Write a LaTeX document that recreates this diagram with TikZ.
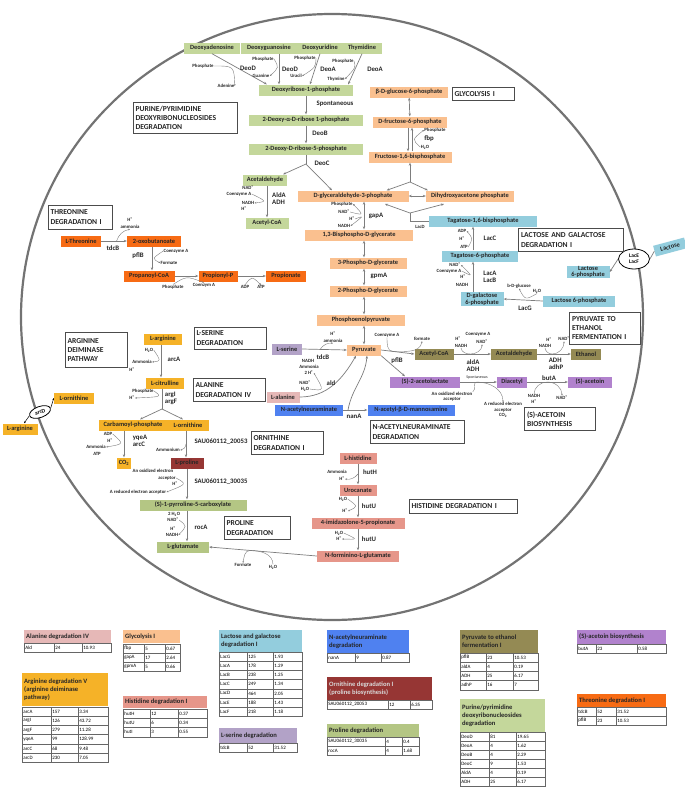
\documentclass[tikz,border=0pt]{standalone}
\usepackage{fontspec}
\setmainfont{Carlito}
\usetikzlibrary{arrows.meta,shapes.geometric,calc}
\definecolor{gP}{RGB}{196,215,155}
\definecolor{gL}{RGB}{180,198,132}
\definecolor{oP}{RGB}{250,192,143}
\definecolor{tO}{RGB}{247,107,20}
\definecolor{yO}{RGB}{245,178,40}
\definecolor{bP}{RGB}{147,205,221}
\definecolor{sP}{RGB}{178,162,199}
\definecolor{aP}{RGB}{230,184,183}
\definecolor{nB}{RGB}{79,129,240}
\definecolor{olP}{RGB}{148,138,84}
\definecolor{puP}{RGB}{177,130,205}
\definecolor{rD}{RGB}{150,54,52}
\definecolor{hS}{RGB}{230,150,138}
\definecolor{aG}{RGB}{125,125,125}
\newcommand\Bx[6]{\node[bx=#5,minimum width=#4] (#1) at (#2,#3) {#6};}
\newcommand\Lb[4]{\node[lb] (#1) at (#2,#3) {#4};}
\newcommand\Ez[4]{\node[en] (#1) at (#2,#3) {#4};}
\newcommand\PW[6]{\node[pw,minimum width=#4,minimum height=#5,text width=\dimexpr #4pt-5pt\relax] (#1) at (#2,#3) {#6};}
\newcommand\cfc[3]{\draw[cof] (#1) .. controls (#2) .. (#3);}
\newcommand\thead[7]{\fill[#5] (#1,#3) rectangle (#2,#4);
  \node[th,anchor=west,text=#7] (#6) at ({#1+1.5},{(#3+#4)/2}) {\csname tx#6\endcsname};}
\newcommand\trows[8]{%
 \foreach \a/\b/\c [count=\i] in {#8} {
   \pgfmathsetmacro\yt{#5+(\i-1)*#6}
   \pgfmathsetmacro\yb{\yt+#6}
   \draw[tl] (#1,\yt) rectangle (#4,\yb);
   \draw[tl] (#2,\yt) -- (#2,\yb) (#3,\yt) -- (#3,\yb);
   \node[tt] (#7-\i-a) at (#1,{(\yt+\yb)/2}) {\a};
   \node[tt] (#7-\i-b) at (#2,{(\yt+\yb)/2}) {\b};
   \node[tt] (#7-\i-c) at (#3,{(\yt+\yb)/2}) {\c};
 }}
\begin{document}
\begin{tikzpicture}[x=1pt,y=-1pt,
  bx/.style={fill=#1,inner sep=0.5pt,minimum height=11pt,font=\fontsize{6.4}{6.8}\selectfont\bfseries,align=center,text=black!85},
  lb/.style={font=\fontsize{4.8}{5.2}\selectfont\bfseries,inner sep=0.3pt,text=black!85,align=center},
  en/.style={font=\fontsize{6.8}{7.2}\selectfont\bfseries,inner sep=0.3pt,text=black!85,align=left},
  pw/.style={draw=black!70,line width=0.6pt,fill=white,font=\fontsize{7.6}{9.2}\selectfont\bfseries,align=left,inner sep=2pt,text=black!85},
  ar/.style={draw=aG,line width=0.7pt,-{Stealth[length=3pt,width=2.4pt]}},
  dar/.style={draw=aG,line width=0.7pt,{Stealth[length=3pt,width=2.4pt]}-{Stealth[length=3pt,width=2.4pt]}},
  ln/.style={draw=aG,line width=0.7pt},
  cof/.style={draw=aG,line width=0.4pt,-{Stealth[length=1.8pt,width=1.6pt]}},
  tl/.style={draw=black!60,line width=0.4pt},
  tt/.style={anchor=west,font=\fontsize{5}{5.5}\selectfont,inner sep=1.2pt},
  th/.style={font=\fontsize{6.6}{7.9}\selectfont\bfseries,align=left,inner sep=0.5pt}]
\useasboundingbox (0,0) rectangle (685,788);
\fill[white] (0,0) rectangle (685,788);
% cell
\draw[draw=black!55,line width=2.2pt] (332,317) ellipse [x radius=311,y radius=303];

% ---------- purine / pyrimidine
\Bx{dA}{212}{48}{56}{gP}{Deoxyadenosine}
\Bx{dG}{269}{48}{56}{gP}{Deoxyguanosine}
\Bx{dU}{320}{48}{46}{gP}{Deoxyuridine}
\Bx{dT}{362}{48}{39}{gP}{Thymidine}
\Bx{dR}{306}{90}{94}{gP}{Deoxyribose-1-phosphate}
\Bx{dRa}{306}{120}{114}{gP}{2-Deoxy-α-D-ribose 1-phosphate}
\Bx{dRd}{306}{149}{114}{gP}{2-Deoxy-D-ribose-5-phosphate}
\Bx{acd}{265}{180}{44}{gP}{Acetaldehyde}
\Bx{acc}{267}{223}{43}{gP}{Acetyl-CoA}
\draw[ar] (dA.south) -- coordinate[pos=.4] (m1) ([xshift=8]dR.north west);
\draw[ar] ([xshift=10]dG.south) -- coordinate[pos=.45] (m2) ([xshift=10]dG.south |- dR.north);
\draw[ar] (dU.south) -- coordinate[pos=.45] (m3) ([xshift=4]dR.north);
\draw[ar] (dT.south) -- coordinate[pos=.45] (m4) ([xshift=-5]dR.north east);
\Lb{ph1}{203}{66}{Phosphate}\Lb{ad1}{226}{86}{Adenine}\Ez{deod1}{248}{68}{DeoD}
\Lb{ph2}{263}{59}{Phosphate}\Lb{gu}{261}{76}{Guanine}\Ez{deod2}{290}{69}{DeoD}
\Lb{ph3}{305}{58}{Phosphate}\Lb{ur}{296}{76}{Uracil}\Ez{deoa1}{328}{69}{DeoA}
\Lb{ph4}{343}{61}{Phosphate}\Lb{thy}{336}{79}{Thymine}\Ez{deoa2}{375}{69}{DeoA}
\cfc{ph1.east}{m1}{ad1.east}
\cfc{ph2.east}{m2}{gu.east}
\cfc{ph3.east}{m3}{ur.east}
\cfc{ph4.east}{m4}{thy.east}
\draw[ar] (dR) -- (dRa); \Ez{spo}{335}{104}{Spontaneous}
\draw[ar] (dRa) -- (dRd); \Ez{deob}{320}{133}{DeoB}
\coordinate (fk1) at (306,164);
\draw[ln] (dRd.south) -- (fk1);
\draw[ar] (fk1) -- ([xshift=-4]acd.north east);
\Ez{deoc}{322}{163}{DeoC}
\draw[ar] ([xshift=2]acd.south) -- coordinate[pos=.5] (m5) ([xshift=0]acc.north);
\Lb{nad1}{248}{188}{NAD\textsuperscript{+}}\Lb{coa1}{239}{194}{Coenzyme A}
\Lb{nadh1}{248}{203}{NADH}\Lb{h1}{244}{209}{H\textsuperscript{+}}
\Ez{alda1}{279}{199}{AldA\\ADH}
\cfc{coa1.east}{m5}{nadh1.east}
\PW{purB}{185}{118}{104}{31}{PURINE/PYRIMIDINE\\DEOXYRIBONUCLEOSIDES\\DEGRADATION}

% ---------- glycolysis
\Bx{bg}{409}{92}{78}{oP}{β-D-glucose-6-phosphate}
\Bx{f6}{410}{122}{74}{oP}{D-fructose-6-phosphate}
\Bx{f16}{410}{157}{83}{oP}{Fructose-1,6-bisphosphate}
\Bx{gap}{353}{196}{111}{oP}{D-glyceraldehyde-3-phophate}
\Bx{dh}{470}{196}{88}{oP}{Dihydroxyacetone phosphate}
\Bx{bpg}{359}{235}{108}{oP}{1,3-Bisphospho-D-glycerate}
\Bx{pg3}{368}{263}{77}{oP}{3-Phospho-D-glycerate}
\Bx{pg2}{368}{291}{77}{oP}{2-Phospho-D-glycerate}
\Bx{pep}{361}{320}{88}{oP}{Phosphoenolpyruvate}
\Bx{pyr}{364}{350}{34}{oP}{Pyruvate}
\draw[ar] (fk1) -- ([xshift=-21]gap.north);
\draw[dar] (bg) -- (f6);
\draw[ar] ([xshift=-2]f6.south) -- ([xshift=-2]f16.north);
\draw[ar] ([xshift=2]f16.north) -- coordinate[pos=.5] (m6) ([xshift=2]f6.south);
\Lb{phf}{435}{130}{Phosphate}\Ez{fbp}{429}{139}{fbp}\Lb{h2of}{425}{147}{H\textsubscript{2}O}
\cfc{h2of.west}{m6}{phf.west}
\coordinate (fk2) at (410,182);
\draw[ar] (fk2) -- (f16.south);
\draw[ar] (fk2) -- ([xshift=-22]gap.north east);
\draw[ar] (fk2) -- ([xshift=2]dh.north west);
\draw[dar] (gap.east) -- (dh.west);
\draw[dar] ([xshift=11]gap.south) -- coordinate[pos=.5] (m7) ([xshift=5]bpg.north);
\Lb{phg}{342}{204}{Phosphate}\Lb{nadg}{344}{212}{NAD\textsuperscript{+}}
\Lb{hg}{352}{219}{H\textsuperscript{+}}\Lb{nadhg}{344}{226}{NADH}
\Ez{gapa}{376}{216}{gapA}
\cfc{nadg.east}{m7}{phg.east}
\cfc{hg.east}{m7}{nadhg.east}
\draw[dar] ([xshift=5]bpg.south) -- ([xshift=-4]pg3.north);
\draw[dar] ([xshift=-4]pg3.south) -- ([xshift=-4]pg2.north);
\Ez{gpma}{379}{276}{gpmA}
\draw[dar] ([xshift=-4]pg2.south) -- ([xshift=3]pep.north);
\draw[dar] ([xshift=3]pep.south) -- (pyr.north);
\PW{glyB}{483}{94}{62}{13}{GLYCOLYSIS I}

% ---------- lactose
\Bx{tbp}{483}{221}{108}{bP}{Tagatose-1,6-bisphosphate}
\Bx{t6p}{480}{256}{76}{bP}{Tagatose-6-phosphate}
\Bx{dg6}{482}{299}{43}{bP}{D-galactose\\6-phosphate}
\Bx{l6p}{579}{301}{72}{bP}{Lactose 6-phosphate}
\Bx{l6b}{588}{272}{43}{bP}{Lactose\\6-phosphate}
\node[bx=bP,rotate=15,minimum width=32] (lac) at (670,247) {Lactose};
\node[draw=black,fill=white,ellipse,line width=0.8pt,inner sep=0pt,minimum width=31,minimum height=20,font=\fontsize{5.4}{6.4}\selectfont\bfseries,align=center] (lef) at (634,259) {LacE\\LacF};
\coordinate (lc1) at (410,213);
\coordinate (lcA) at (385,204);
\coordinate (lcB) at (444,204);
\draw[ln] (tbp.west) -| (lc1);
\draw[ar] (lc1) -- (lcA);
\draw[ar] (lc1) -- (lcB);
\Lb{lacd}{420}{227}{LacD}
\draw[ar] ([xshift=-7]t6p.north) -- coordinate[pos=.5] (m8) ([xshift=-10]tbp.south);
\Lb{adpl}{462}{231}{ADP}\Lb{hl}{462}{239}{H\textsuperscript{+}}\Lb{atpl}{464}{247}{ATP}
\Ez{lacc}{490}{238}{LacC}
\cfc{atpl.east}{m8}{adpl.east}
\draw[ar] ([xshift=-9]dg6.north) -- coordinate[pos=.5] (m9) ([xshift=-7]t6p.south);
\Lb{nadl}{455}{265}{NAD\textsuperscript{+}}\Lb{coal}{449}{271}{Coenzyme A}
\Lb{hl2}{463}{277}{H\textsuperscript{+}}\Lb{nadhl}{462}{285}{NADH}
\Ez{lacab}{490}{277}{LacA\\LacB}
\cfc{coal.east}{m9}{nadl.east}
\draw[ar] (l6p.west) -- coordinate[pos=.45] (m10) (dg6.east);
\Lb{bdg}{519}{286}{b-D-glucose}\Lb{h2ol}{537}{291}{H\textsubscript{2}O}
\Ez{lacg}{525}{308}{LacG}
\cfc{h2ol.south}{m10}{bdg.south}
\draw[ln] (lac.west) -- (lef.east);
\draw[ar] (lef.west) -- (l6b.east);
\PW{lacB}{571}{240}{105}{23}{LACTOSE AND GALACTOSE\\DEGRADATION I}

% ---------- threonine
\Bx{thr}{81}{241}{40}{tO}{L-Threonine}
\Bx{oxb}{154}{241}{54}{tO}{2-oxobutanoate}
\Bx{pcoa}{149}{276}{51}{tO}{Propanoyl-CoA}
\Bx{pp}{218}{276}{39}{tO}{Propionyl-P}
\Bx{pro}{286}{276}{40}{tO}{Propionate}
\draw[ar] (thr.east) -- coordinate[pos=.6] (t1) (oxb.west);
\Lb{ht}{130}{220}{H\textsuperscript{+}}\Lb{ammt}{130}{227}{ammonia}
\draw[cof] (t1) to[bend left=30] (ammt.south);
\Ez{tdcb1}{113}{248}{tdcB}
\draw[ar] ([xshift=-2]oxb.south) -- coordinate[pos=.5] (t2) ([xshift=3]pcoa.north);
\Ez{pflb1}{138}{256}{pflB}
\Lb{coat}{176}{251}{Coenzyme A}\Lb{fort}{169}{263}{Formate}
\cfc{coat.west}{t2}{fort.west}
\draw[ar] (pcoa.east) -- coordinate[pos=.5] (t3) (pp.west);
\Lb{pht}{173}{287}{Phosphate}\Lb{coat2}{204}{285}{Coenzym A}
\cfc{pht.north}{t3}{coat2.north}
\draw[ar] (pp.east) -- coordinate[pos=.5] (t4) (pro.west);
\Lb{adpt}{245}{287}{ADP}\Lb{atpt}{261}{287}{ATP}
\cfc{adpt.north}{t4}{atpt.north}
\PW{thrB}{80}{217}{64}{24}{THREONINE\\DEGRADATION I}

% ---------- pyruvate region
\Bx{ser}{287}{349}{30}{sP}{L-serine}
\Bx{ala}{283}{397}{33}{aP}{L-alanine}
\Bx{nan}{309}{410}{68}{nB}{N-acetylneuraminate}
\Bx{nam}{411}{410}{87}{nB}{N-acetyl-β-D-mannosamine}
\Bx{acoa}{434}{354}{39}{olP}{Acetyl-CoA}
\Bx{acd2}{514}{354}{46}{olP}{Acetaldehyde}
\Bx{eth}{586}{354}{30}{olP}{Ethanol}
\Bx{acl}{425}{382}{70}{puP}{(S)-2-acetolactate}
\Bx{dia}{512}{382}{30}{puP}{Diacetyl}
\Bx{aco}{590}{382}{44}{puP}{(S)-acetoin}
\draw[ar] (ser.east) -- coordinate[pos=.4] (s1) (pyr.west);
\Lb{hs}{333}{334}{H\textsuperscript{+}}\Lb{amms}{333}{341}{ammonia}
\draw[cof] (s1) to[bend left=30] (amms.south);
\Ez{tdcb2}{323}{357}{tdcB}
\draw[ar] (ala.east) to[out=0,in=240] coordinate[pos=.35] (a1) ([xshift=-8]pyr.south);
\Lb{nadha}{308}{361}{NADH}\Lb{amma}{309}{367}{Ammonia}\Lb{h2a}{309}{373}{2 H\textsuperscript{+}}
\Lb{nada}{305}{383}{NAD\textsuperscript{+}}\Lb{h2oa}{305}{389}{H\textsubscript{2}O}
\Ez{ald}{331}{383}{ald}
\cfc{h2oa.east}{a1}{h2a.east}
\draw[ar] (nan.east) -- coordinate[pos=.2] (n1) (nam.west);
\draw[ar] (n1) to[out=80,in=265] ([xshift=3]pyr.south);
\Ez{nana}{354}{416}{nanA}
\draw[ar] (pyr.east) -- coordinate[pos=.35] (p1) (acoa.west);
\Lb{coap}{387}{335}{Coenzyme A}\Lb{forp}{422}{339}{formate}
\draw[cof] (coap.south) to[out=-90,in=180] (p1) to[out=0,in=-100] (forp.south);
\Ez{pflb2}{397}{361}{pflB}
\draw[ar] (pyr.south east) -- ([xshift=-20]acl.north);
\draw[ar] (acoa.east) -- coordinate[pos=.45] (p2) (acd2.west);
\Lb{hp2}{458}{339}{H\textsuperscript{+}}\Lb{nadhp2}{461}{346}{NADH}
\Lb{coap2}{478}{334}{Coenzyme A}\Lb{nadp2}{482}{342}{NAD\textsuperscript{+}}
\draw[cof] (nadhp2.south) to[out=-80,in=180] (p2) to[out=0,in=-90] (nadp2.south);
\Ez{aldap}{473}{366}{aldA\\ADH}
\draw[ar] (acd2.east) -- coordinate[pos=.45] (p3) (eth.west);
\Lb{hp3}{549}{340}{H\textsuperscript{+}}\Lb{nadhp3}{545}{346}{NADH}\Lb{nadp3}{564}{339}{NAD\textsuperscript{+}}
\draw[cof] (nadhp3.south) to[out=-80,in=180] (p3) to[out=0,in=-90] (nadp3.south);
\Ez{adhp}{556}{364}{ADH\\adhP}
\draw[ar] (acl.east) -- coordinate[pos=.45] (p4) (dia.west);
\node[lb,font=\fontsize{4}{4.4}\selectfont] (spo2) at (477,378) {Spontaneous};
\Lb{oxe}{452}{397}{An oxidized electron\\acceptor}
\Lb{rde}{503}{410}{A reduced electron\\acceptor\\CO\textsubscript{2}}
\draw[cof] (oxe.north east) to[out=30,in=180] (p4) to[out=0,in=90] (rde.north);
\draw[ar] (dia.east) -- coordinate[pos=.5] (p5) (aco.west);
\Ez{buta}{549}{378}{butA}
\Lb{nadhp5}{534}{399}{NADH\\H\textsuperscript{+}}\Lb{nadp5}{562}{398}{NAD\textsuperscript{+}}
\draw[cof] (nadhp5.north) to[out=90,in=180] (p5) to[out=0,in=90] (nadp5.north);
\PW{pyrB}{605}{328}{71}{32}{PYRUVATE TO\\ETHANOL\\FERMENTATION I}
\PW{acoB}{560}{419}{71}{23}{(S)-ACETOIN\\BIOSYNTHESIS}
\PW{nanB}{417}{432}{94}{23}{N-ACETYLNEURAMINATE\\DEGRADATION}
\PW{serB}{230}{338}{72}{22}{L-SERINE\\DEGRADATION}
\PW{alaB}{229}{390}{72}{23}{ALANINE\\DEGRADATION IV}
\PW{ornB}{287}{443}{72}{23}{ORNITHINE\\DEGRADATION I}

% ---------- arginine / proline
\Bx{arg}{163}{339}{38}{yO}{L-arginine}
\Bx{cit}{165}{383}{38}{yO}{L-citrulline}
\Bx{cbp}{133}{425}{68}{yO}{Carbamoyl-phosphate}
\Bx{orn}{188}{425}{42}{yO}{L-ornithine}
\Bx{co2}{124}{463}{14}{yO}{CO\textsubscript{2}}
\Bx{prl}{187}{463}{33}{rD}{L-proline}
\Bx{p5c}{193}{505}{107}{gL}{(S)-1-pyrroline-5-carboxylate}
\Bx{glu}{183}{547}{52}{gL}{L-glutamate}
\Bx{orno}{74}{398}{40}{yO}{L-ornithine}
\Bx{argo}{20}{429}{35}{yO}{L-arginine}
\node[draw=black,fill=white,ellipse,line width=0.8pt,inner sep=0.3pt,minimum width=22,minimum height=11,rotate=20,font=\fontsize{5.6}{6}\selectfont\bfseries] (arcd) at (40,412) {arcD};
\draw[draw=black,line width=0.5pt,-{Stealth[length=2.2pt]}] (arcd.east) -- (orno.west);
\draw[draw=black,line width=0.5pt,-{Stealth[length=2.2pt]}] (arcd.west) -- ([xshift=4]argo.north);
\draw[ar] ([xshift=-2]arg.south) -- coordinate[pos=.5] (r1) ([xshift=-4]cit.north);
\Lb{h2or}{149}{350}{H\textsubscript{2}O}\Lb{ammr}{142}{362}{Ammonia}\Lb{hr}{132}{370}{H\textsuperscript{+}}
\Ez{arca}{174}{359}{arcA}
\cfc{h2or.east}{r1}{ammr.east}
\coordinate (fk3) at (162,409);
\draw[ln] ([xshift=-3]cit.south) -- coordinate[pos=.4] (r2) (fk3);
\draw[ar] (fk3) -- ([xshift=7]cbp.north);
\draw[ar] (fk3) -- ([xshift=-5]orn.north);
\Lb{phr}{143}{391}{Phosphate}\Lb{hr2}{132}{398}{H\textsuperscript{+}}
\Ez{argi}{171}{398}{argI\\argF}
\cfc{phr.east}{r2}{hr2.east}
\draw[ar] ([xshift=-9]cbp.south) -- coordinate[pos=.5] (r3) (co2.north);
\Lb{adpr}{108}{434}{ADP}\Lb{hr3}{110}{441}{H\textsuperscript{+}}\Lb{ammr3}{96}{447}{Ammonia}\Lb{atpr}{97}{454}{ATP}
\Ez{yqea}{140}{441}{yqeA\\arcC}
\cfc{adpr.east}{r3}{ammr3.east}
\draw[ar] ([xshift=-2]orn.south) -- coordinate[pos=.5] (r4) ([xshift=-1]prl.north);
\Ez{sau1}{221}{442}{SAU060112\_20053}
\Lb{ammo}{168}{450}{Ammonium}
\draw[cof] (r4) to[bend left=40] (ammo.east);
\draw[ar] (prl.south) -- coordinate[pos=.5] (r5) (prl.south |- p5c.north);
\Lb{oxr}{153}{471}{An oxidized electron}\Lb{accr}{167}{478}{acceptor}\Lb{hr5}{175}{484}{H\textsuperscript{+}}
\Lb{rdr}{138}{492}{A reduced electron acceptor}
\cfc{accr.east}{r5}{rdr.east}
\Ez{sau2}{221}{482}{SAU060112\_30035}
\draw[ar] (p5c.south -| prl.south) -- coordinate[pos=.5] (r6) (prl.south |- glu.north);
\Lb{h2or6}{174}{514}{2 H\textsubscript{2}O}\Lb{nadr6}{173}{520}{NAD\textsuperscript{+}}
\Lb{hr6}{173}{529}{H\textsuperscript{+}}\Lb{nadhr6}{172}{535}{NADH}
\Ez{roca}{201}{527}{rocA}
\cfc{nadr6.east}{r6}{nadhr6.east}
\PW{argB}{96}{350}{62}{35}{ARGININE\\DEIMINASE\\PATHWAY}
\PW{proB}{257}{528}{66}{23}{PROLINE\\DEGRADATION}

% ---------- histidine
\Bx{his}{358}{458}{37}{hS}{L-histidine}
\Bx{uro}{358}{490}{37}{hS}{Urocanate}
\Bx{imi}{358}{523}{93}{hS}{4-imidazolone-5-propionate}
\Bx{nfg}{358}{556}{82}{hS}{N-forminino-L-glutamate}
\draw[ar] (his) -- coordinate[pos=.5] (h1) (uro);
\Lb{ammh}{337}{472}{Ammonia}\Lb{hh1}{342}{479}{H\textsuperscript{+}}
\draw[cof] (h1) to[bend left=30] (hh1.east);
\Ez{huth}{370}{472}{hutH}
\draw[ar] (uro) -- coordinate[pos=.5] (h2) (imi);
\Lb{h2oh2}{343}{499}{H\textsubscript{2}O}\Lb{hh2}{345}{511}{H\textsuperscript{+}}
\cfc{h2oh2.east}{h2}{hh2.east}
\Ez{hutu1}{369}{506}{hutU}
\draw[ar] (imi) -- coordinate[pos=.5] (h3) (nfg);
\Lb{h2oh3}{339}{533}{H\textsubscript{2}O}\Lb{hh3}{339}{539}{H\textsuperscript{+}}
\cfc{h2oh3.east}{h3}{hh3.east}
\Ez{hutu2}{369}{539}{hutU}
\draw[ar] (nfg.west) -- coordinate[pos=.62] (g1) (glu.east);
\Lb{forg}{243}{565}{Formate}\Lb{h2og}{273}{567}{H\textsubscript{2}O}
\draw[cof] (h2og.north) to[out=90,in=0] (g1) to[out=180,in=80] (forg.north);
\PW{hisB}{463}{506}{108}{14}{HISTIDINE DEGRADATION I}

% ---------- tables
\def\txhA{Alanine degradation IV}
\def\txhG{Glycolysis I}
\def\txhR{Arginine degradation V\\(arginine deiminase\\pathway)}
\def\txhH{Histidine degradation I}
\def\txhL{Lactose and galactose\\degradation I}
\def\txhS{L-serine degradation}
\def\txhN{N-acetylneuraminate\\degradation}
\def\txhO{Ornithine degradation I\\(proline biosynthesis)}
\def\txhP{Proline degradation}
\def\txhE{Pyruvate to ethanol\\fermentation I}
\def\txhU{Purine/pyrimidine\\deoxyribonucleosides\\degradation}
\def\txhC{(S)-acetoin biosynthesis}
\def\txhT{Threonine degradation I}
\thead{24}{111}{630}{643}{aP}{hA}{black!85}
\trows{24}{54}{82}{111}{643}{9}{tA}{Ald/24/10.93}
\thead{123}{180}{630}{643}{oP}{hG}{black!85}
\trows{123}{144}{165}{180}{644}{9}{tG}{fbp/5/0.67,gapA/17/2.64,gpmA/5/0.66}
\thead{22}{108}{673}{706}{yO}{hR}{black!85}
\trows{22}{51}{78}{108}{707}{9.2}{tR}{arcA/157/3.34,argI/126/43.72,argF/279/11.28,yqeA/99/128.99,arcC/68/9.48,arcD/230/7.05}
\thead{123}{207}{696}{708}{hS}{hH}{black!85}
\trows{123}{150}{178}{207}{709}{9.3}{tH}{hutH/12/0.37,hutU/6/0.34,hutI/3/0.55}
\thead{219}{302}{630}{652}{bP}{hL}{black!85}
\trows{219}{247}{273}{302}{652}{9.2}{tL}{LacG/125/1.93,LacA/178/1.29,LacB/238/1.25,LacC/249/1.34,LacD/464/2.05,LacE/188/1.43,LacF/218/1.18}
\thead{219}{297}{728}{743}{sP}{hS}{black!85}
\trows{219}{247}{273}{297}{743}{9}{tS}{tdcB/52/31.52}
\thead{327}{409}{630}{653}{nB}{hN}{black!85}
\trows{327}{355}{381}{409}{653}{9}{tN}{nanA/9/0.87}
\thead{327}{432}{677}{700}{rD}{hO}{white!85!black}
\trows{327}{388}{410}{432}{700}{9}{tO}{SAU060112\_20053/12/6.35}
\thead{327}{419}{724}{737}{gL}{hP}{black!85}
\trows{327}{385}{402}{419}{737}{9}{tP}{SAU060112\_30035/4/0.4,rocA/4/1.68}
\thead{460}{538}{630}{653}{olP}{hE}{black!85}
\trows{460}{486}{513}{538}{653}{9.2}{tE}{pflB/23/10.53,aldA/4/0.19,ADH/25/6.17,adhP/16/7}
\thead{460}{545}{699}{732}{gP}{hU}{black!85}
\trows{460}{489}{516}{545}{732}{9.1}{tU}{DeoD/81/19.65,DeoA/4/1.62,DeoB/4/2.29,DeoC/9/1.53,AldA/4/0.19,ADH/25/6.17}
\thead{577}{666}{630}{644}{puP}{hC}{black!85}
\trows{577}{596}{637}{666}{644}{9}{tC}{butA/23/0.58}
\thead{577}{666}{694}{707}{tO}{hT}{black!85}
\trows{577}{596}{616}{666}{707}{9}{tT}{tdcB/52/31.52,pflB/23/10.53}
\end{tikzpicture}
\end{document}
